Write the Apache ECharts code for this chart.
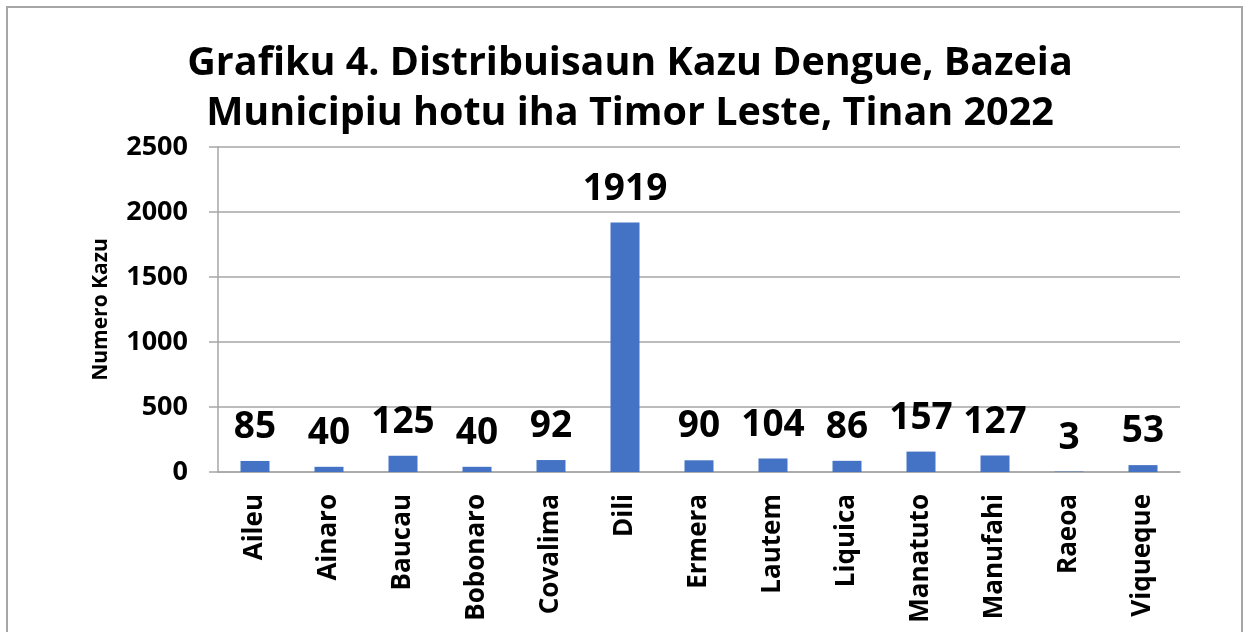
<!DOCTYPE html>
<html>
<head>
<meta charset="UTF-8">
<title>Grafiku 4</title>
<script src="https://cdn.jsdelivr.net/npm/echarts@6/dist/echarts.min.js"></script>
<style>
html,body{margin:0;padding:0;background:#fff;}
#box{width:1244px;height:632px;}
</style>
</head>
<body>
<div id="box"></div>
<script>
// municipiu sira
var municipios = ['Aileu','Ainaro','Baucau','Bobonaro','Covalima','Dili','Ermera','Lautem','Liquica','Manatuto','Manufahi','Raeoa','Viqueque'];
// numero kazu dengue
var kazu = [85, 40, 125, 40, 92, 1919, 90, 104, 86, 157, 127, 3, 53];
// eixo Y
var yTicks = [0, 500, 1000, 1500, 2000, 2500];

var fnt = '"Open Sans", sans-serif';
var mychart = echarts.init(document.getElementById('box'));

var option = {
  animation: false,
  textStyle: { fontFamily: fnt },
  title: {
    text: 'Grafiku 4. Distribuisaun Kazu Dengue, Bazeia\nMunicipiu hotu iha Timor Leste, Tinan 2022',
    left: 625,
    textAlign: 'center',
    top: 34,
    textStyle: { fontFamily: fnt, fontWeight: 'bold', fontSize: 39.5, lineHeight: 50, color: '#000' }
  },
  graphic: [{
    type: 'rect',
    shape: { x: 7, y: 7, width: 1235, height: 640 },
    style: { fill: null, stroke: '#a6a6a6', lineWidth: 2 }
  }],
  grid: { left: 218, right: 64, top: 147, bottom: 160 },
  xAxis: {
    type: 'category',
    data: municipios,
    axisLine: { lineStyle: { color: '#a6a6a6', width: 1.5 } },
    axisTick: { show: false },
    axisLabel: {
      rotate: 90, interval: 0, margin: 22,
      fontFamily: fnt, fontWeight: 'bold', fontSize: 26, color: '#000'
    }
  },
  yAxis: {
    type: 'value',
    min: yTicks[0], max: yTicks[yTicks.length - 1], interval: 500,
    name: 'Numero Kazu',
    nameLocation: 'middle',
    nameGap: 106,
    nameTextStyle: { fontFamily: fnt, fontWeight: 'bold', fontSize: 21, color: '#000' },
    axisLine: { show: true, lineStyle: { color: '#a6a6a6', width: 1.5 } },
    axisTick: { show: true, length: 9, lineStyle: { color: '#a6a6a6', width: 1.5 } },
    splitLine: { lineStyle: { color: '#a6a6a6', width: 1.5 } },
    axisLabel: {
      margin: 30, fontFamily: fnt, fontWeight: 'bold', fontSize: 27, color: '#000',
      formatter: function (v) { return String(v); }
    }
  },
  series: [{
    type: 'bar',
    data: kazu,
    barWidth: 29,
    itemStyle: { color: '#4472C4' },
    label: {
      show: true, position: 'top', distance: 15,
      fontFamily: fnt, fontWeight: 'bold', fontSize: 37, color: '#000'
    }
  }]
};

mychart.setOption(option);
</script>
</body>
</html>
